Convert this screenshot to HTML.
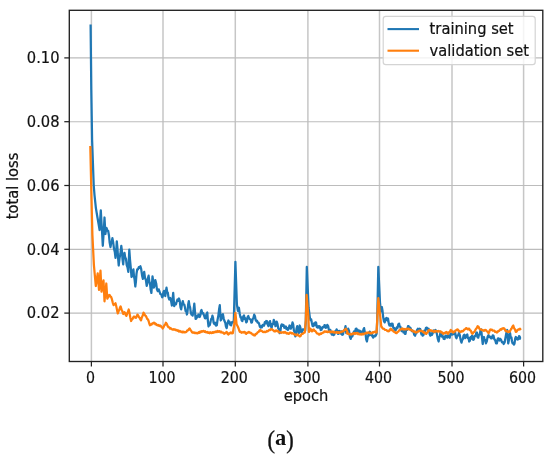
<!DOCTYPE html>
<html><head><meta charset="utf-8"><title>loss</title>
<style>
html,body{margin:0;padding:0;background:#fff;}
body{width:550px;height:458px;overflow:hidden;}
svg{display:block;}
text{font-family:"DejaVu Sans","Liberation Sans",sans-serif;fill:#111;stroke:#111;stroke-width:0.2px;}
.cap{font-family:"Liberation Serif","DejaVu Serif",serif;fill:#111;stroke:none;}
.par{stroke:#111;stroke-width:0.3px;}
</style></head><body>
<svg width="550" height="458" viewBox="0 0 550 458">
<rect x="0" y="0" width="550" height="458" fill="#ffffff"/>

<g stroke="#c6c6c6" stroke-width="1.5">
<line x1="91.4" y1="10.3" x2="91.4" y2="361.5"/>
<line x1="163.0" y1="10.3" x2="163.0" y2="361.5"/>
<line x1="235.3" y1="10.3" x2="235.3" y2="361.5"/>
<line x1="307.9" y1="10.3" x2="307.9" y2="361.5"/>
<line x1="379.5" y1="10.3" x2="379.5" y2="361.5"/>
<line x1="452.0" y1="10.3" x2="452.0" y2="361.5"/>
<line x1="523.6" y1="10.3" x2="523.6" y2="361.5"/>
</g>
<g stroke="#bcbcbc" stroke-width="1.15">
<line x1="69.3" y1="313.1" x2="542.8" y2="313.1"/>
<line x1="69.3" y1="249.3" x2="542.8" y2="249.3"/>
<line x1="69.3" y1="185.5" x2="542.8" y2="185.5"/>
<line x1="69.3" y1="121.7" x2="542.8" y2="121.7"/>
<line x1="69.3" y1="57.9" x2="542.8" y2="57.9"/>
</g>
<clipPath id="c"><rect x="69.3" y="10.3" width="473.5" height="351.2"/></clipPath>
<g clip-path="url(#c)">
<polyline points="90.6,24.6 91.3,90.0 92.1,140.0 93.7,185.0 94.5,195.0 95.9,208.1 97.2,216.0 98.6,224.0 99.6,230.0 100.2,219.3 100.8,210.4 101.5,223.0 102.1,232.7 102.8,245.8 103.7,232.3 104.5,217.5 105.4,234.0 106.0,229.8 106.6,228.0 107.4,230.5 108.2,231.0 109.0,235.7 109.7,242.9 110.5,247.1 111.1,243.5 111.7,242.2 112.4,238.2 113.2,242.4 114.0,248.8 114.8,251.9 115.5,257.9 116.2,251.1 116.8,241.4 117.5,248.7 118.1,258.3 118.7,265.5 119.6,257.7 120.4,254.0 121.3,245.8 121.9,250.8 122.5,259.1 123.2,264.3 123.8,256.9 124.5,252.8 125.2,257.3 126.0,259.0 126.7,265.2 127.5,267.3 128.3,271.9 129.3,249.6 130.0,259.5 130.7,266.9 131.5,277.0 132.1,275.9 132.7,271.1 133.4,269.4 134.0,276.3 134.6,279.6 135.3,286.5 135.9,281.8 136.5,273.9 137.2,269.4 138.0,269.3 138.8,267.1 139.6,267.8 140.4,266.2 141.2,269.1 142.1,275.7 142.9,278.9 143.5,274.5 144.2,271.9 145.0,277.8 145.9,280.2 146.7,285.9 147.4,283.4 148.0,277.7 148.6,275.7 149.3,281.3 150.0,283.4 150.7,289.8 151.4,292.9 152.5,276.3 153.2,280.8 153.8,287.7 154.6,285.4 155.3,280.1 156.2,283.5 157.0,289.6 157.8,291.2 158.7,289.3 159.5,291.5 160.4,294.2 161.2,294.3 162.1,297.3 162.7,296.5 163.4,292.3 164.0,290.9 164.6,294.6 165.3,296.0 165.9,291.2 166.5,287.7 167.2,292.2 167.8,292.7 168.5,297.3 169.3,299.5 170.2,297.9 171.0,300.5 171.9,305.5 172.5,300.1 173.2,292.8 174.2,306.2 175.0,303.4 175.9,304.4 176.7,301.7 177.5,299.5 178.3,300.7 179.0,298.5 179.7,300.7 180.5,307.3 181.2,309.4 182.0,304.1 182.8,301.1 183.6,304.5 184.3,304.6 185.0,307.5 185.6,311.1 186.3,310.8 186.9,314.5 187.5,311.6 188.2,304.1 188.8,301.1 189.5,305.6 190.1,307.3 190.7,311.9 191.4,314.5 192.0,313.8 192.6,315.7 193.5,310.8 194.3,303.6 194.9,310.5 195.6,318.9 196.3,318.5 197.0,316.0 197.7,317.0 198.4,314.5 199.0,315.0 199.6,317.0 200.3,315.5 200.9,311.3 201.5,310.0 202.4,313.4 203.2,313.1 204.1,315.7 204.9,318.1 205.6,318.3 206.4,314.2 207.3,312.5 207.9,321.1 208.5,326.5 209.2,323.6 209.8,325.1 210.5,322.1 211.1,319.1 211.7,318.9 212.4,315.7 213.0,317.5 213.6,322.8 214.3,324.0 215.1,322.8 216.0,325.6 216.8,325.3 217.6,319.4 218.3,316.1 219.1,309.3 219.8,305.2 220.7,320.5 221.4,319.4 222.2,315.0 222.9,314.1 223.7,318.5 224.5,321.1 225.3,322.8 226.0,326.8 226.7,328.1 227.5,323.3 228.4,320.5 229.0,323.1 229.6,321.8 230.3,324.9 231.1,325.4 232.0,322.1 232.8,322.4 233.8,320.5 235.4,261.9 236.9,304.5 237.9,310.9 238.9,307.7 239.7,313.7 240.5,317.3 241.1,317.2 241.7,320.5 242.4,321.1 243.2,316.7 244.0,315.4 244.7,319.1 245.5,318.5 246.2,322.4 246.9,321.7 247.6,317.1 248.3,316.0 249.2,318.6 250.0,319.2 250.6,319.5 251.3,322.6 251.9,322.4 252.7,319.1 253.4,318.0 254.2,314.7 254.9,316.0 255.6,319.8 256.4,321.1 257.0,320.6 257.6,322.6 258.3,322.4 259.0,323.4 259.8,326.5 260.6,327.5 261.3,326.1 262.0,327.2 262.7,324.9 263.4,324.9 264.1,325.6 264.8,322.1 265.5,323.4 266.2,321.0 266.9,321.1 267.7,324.6 268.5,326.2 269.2,322.6 270.0,321.1 270.8,325.3 271.6,328.1 272.4,323.9 273.1,324.2 273.8,319.8 274.6,321.9 275.5,326.2 276.1,325.1 276.7,321.7 277.5,323.9 278.2,328.2 278.9,329.4 279.7,333.2 280.4,331.1 281.1,325.8 281.8,324.3 282.6,325.7 283.5,324.9 284.3,327.8 285.1,326.8 285.8,326.5 286.5,329.2 287.2,328.0 287.9,330.0 288.7,328.4 289.5,325.5 290.2,326.0 290.8,328.7 291.6,327.1 292.5,322.4 293.2,324.4 293.9,330.7 294.6,332.0 295.3,336.4 295.9,334.0 296.5,328.8 297.2,326.2 298.0,331.1 298.8,333.2 299.7,325.5 300.4,327.6 301.0,331.9 301.8,332.5 302.7,329.3 303.5,329.4 305.2,330.6 305.8,320.5 306.8,266.9 308.6,307.7 309.9,317.9 310.5,320.2 311.2,319.4 311.8,322.4 312.6,325.9 313.3,326.2 314.0,323.4 314.7,325.1 315.4,322.4 316.1,322.6 316.8,327.1 317.5,327.5 318.2,326.2 318.8,327.7 319.5,326.2 320.1,327.1 320.7,330.0 321.6,329.6 322.4,327.2 323.3,326.8 323.9,327.3 324.5,325.1 325.2,325.5 325.8,327.8 326.5,327.5 327.3,324.9 328.2,326.2 329.0,330.6 329.6,332.1 330.3,329.9 330.9,331.9 331.8,334.6 332.6,332.5 333.5,335.1 334.3,334.6 335.0,331.4 335.8,331.6 336.6,329.4 337.3,330.8 337.9,333.8 338.5,333.8 339.2,330.9 339.8,331.3 340.6,333.6 341.4,331.4 342.2,334.8 343.0,334.5 343.8,330.4 344.7,330.4 345.5,326.2 346.3,333.2 346.9,331.0 347.5,331.5 348.2,328.7 349.0,330.6 349.9,336.9 350.7,338.9 351.6,335.6 352.4,336.2 353.3,333.2 354.1,331.3 354.9,332.4 355.7,328.9 356.5,328.7 357.1,331.4 357.7,329.7 358.4,332.5 359.0,333.1 359.6,330.7 360.3,331.3 360.9,333.7 361.5,331.6 362.2,333.8 362.8,332.7 363.5,329.2 364.1,328.1 364.8,332.2 365.5,333.2 366.2,339.5 366.9,341.5 367.7,337.2 368.5,334.5 369.2,335.3 369.8,331.6 370.5,332.5 371.1,335.1 371.7,334.1 372.4,336.4 373.2,337.5 374.1,335.6 374.9,336.4 375.7,335.7 376.6,333.8 377.2,320.5 378.3,266.9 380.0,302.6 380.9,311.5 381.9,307.1 382.5,310.6 383.2,317.3 383.9,321.1 384.7,322.4 385.5,319.0 386.4,317.9 387.3,320.5 388.0,318.5 388.8,323.6 389.5,325.5 390.3,323.9 391.1,325.8 391.8,323.6 392.6,323.9 393.3,327.9 394.0,328.7 394.6,328.3 395.3,330.5 395.9,330.0 396.7,327.5 397.5,328.0 398.3,324.3 399.1,323.6 399.7,326.6 400.4,326.7 401.0,329.4 401.6,331.1 402.3,328.8 402.9,330.0 403.5,332.4 404.2,331.3 404.8,333.8 405.5,333.9 406.1,329.8 406.7,329.4 407.4,329.8 408.0,326.1 408.6,326.2 409.5,328.6 410.3,327.6 411.2,330.0 411.9,331.0 412.5,330.6 413.4,331.3 414.2,334.8 415.1,335.7 415.7,333.2 416.4,333.3 417.0,330.0 417.8,328.8 418.7,330.3 419.5,328.7 420.2,329.0 420.8,331.9 421.5,334.4 422.1,333.5 422.7,335.7 423.5,335.0 424.3,330.7 425.1,331.4 425.9,328.1 426.8,327.6 427.6,329.7 428.5,328.7 429.1,330.2 429.7,334.3 430.4,335.7 431.2,333.3 432.1,334.7 432.9,332.5 433.8,330.5 434.6,332.2 435.5,330.0 436.2,330.7 437.0,334.5 437.8,339.0 438.6,341.5 439.3,337.0 439.9,336.2 440.5,331.9 441.3,332.5 442.1,336.7 442.9,336.1 443.7,338.9 444.6,339.0 445.4,335.7 446.3,335.7 447.1,337.7 448.0,335.3 448.8,337.0 449.7,337.7 450.5,333.7 451.4,334.5 452.2,334.7 453.0,332.0 453.8,334.1 454.5,331.9 455.2,332.6 455.8,336.9 456.5,338.3 457.3,335.6 458.2,335.5 459.0,332.5 459.8,335.2 460.7,340.2 461.5,342.7 462.2,339.7 462.8,339.4 463.5,335.7 464.3,334.7 465.2,338.1 466.0,337.0 466.6,334.9 467.3,334.5 467.9,338.1 468.5,337.8 469.2,341.5 469.9,340.8 470.5,337.1 471.2,338.8 471.9,335.7 472.5,336.2 473.2,339.9 473.8,339.5 474.7,336.2 475.5,336.0 476.4,332.5 477.0,332.6 477.6,337.4 478.3,337.6 479.0,334.8 479.7,334.6 480.5,330.3 481.2,329.4 482.0,337.6 482.7,344.0 483.4,339.7 484.0,337.0 484.6,340.1 485.3,339.9 485.9,343.4 486.8,341.3 487.6,336.7 488.5,335.1 489.3,337.2 490.2,336.6 491.0,338.3 491.8,338.4 492.7,335.3 493.5,335.7 494.4,339.4 495.2,340.1 496.1,343.4 496.9,343.3 497.8,338.6 498.6,338.3 499.5,340.5 500.3,338.8 501.2,340.2 502.0,342.3 502.9,342.1 503.7,344.0 504.6,342.5 505.4,338.3 506.3,333.2 507.2,330.0 508.2,343.4 508.8,340.7 509.5,335.5 510.1,333.2 510.7,337.5 511.4,337.3 512.0,341.5 512.6,343.4 513.3,342.8 513.9,344.6 514.5,343.6 515.2,338.4 515.8,337.0 516.5,339.2 517.1,338.0 517.7,339.5 518.4,339.2 519.0,336.1 519.6,336.4 520.3,338.7 520.9,338.9" fill="none" stroke="#1f77b4" stroke-width="2.25" stroke-linejoin="round" stroke-linecap="butt"/>
<polyline points="90.3,146.0 91.3,190.0 92.4,235.0 93.9,265.0 95.8,286.0 97.7,273.3 99.0,289.8 100.5,270.7 101.5,291.7 103.5,280.3 104.5,301.3 106.3,283.5 107.3,298.7 109.2,294.9 109.8,295.3 110.5,296.7 111.1,296.8 111.9,299.2 112.8,302.8 113.6,305.1 114.3,304.2 114.9,304.3 115.5,303.2 116.3,306.4 117.1,310.4 117.8,313.4 118.5,311.3 119.2,310.2 119.9,307.7 120.6,306.4 121.5,309.4 122.3,311.2 123.2,314.0 123.8,313.3 124.5,312.1 125.1,313.0 125.7,314.9 126.4,315.9 127.1,313.6 127.9,311.9 128.7,309.5 129.5,313.1 130.3,317.4 131.1,321.0 131.8,319.6 132.5,319.1 133.3,317.2 134.0,316.5 134.6,317.3 135.3,317.0 135.9,317.8 136.7,316.5 137.4,314.6 138.2,315.5 138.9,317.1 139.6,317.8 140.3,319.4 141.0,320.4 141.8,317.4 142.7,315.6 143.5,312.7 144.3,313.7 145.1,315.6 145.9,316.0 146.7,317.8 147.4,319.1 148.0,319.5 148.6,321.0 149.3,323.5 150.0,325.3 150.8,324.4 151.5,324.7 152.3,323.4 153.1,323.6 153.8,322.7 154.6,322.8 155.3,324.3 156.1,323.9 156.9,325.2 157.6,325.3 158.4,325.0 159.2,326.0 160.0,325.4 160.8,325.9 161.5,327.1 162.1,327.4 162.7,328.5 163.5,327.3 164.3,325.4 165.1,324.6 165.9,322.7 166.8,323.9 167.6,326.0 168.5,327.2 169.3,327.4 170.0,328.6 170.8,328.1 171.6,329.1 172.4,329.6 173.2,329.1 173.9,329.8 174.7,329.3 175.5,329.7 176.2,330.3 176.9,330.0 177.6,330.9 178.4,330.5 179.1,331.6 179.8,330.9 180.5,331.6 181.3,332.1 182.0,331.5 182.7,332.4 183.5,331.7 184.2,332.4 184.9,332.0 185.6,332.3 186.5,331.8 187.3,330.4 188.1,330.3 188.9,329.0 189.7,328.5 190.5,330.1 191.2,330.8 192.0,332.3 192.7,332.7 193.5,332.3 194.2,333.0 194.9,332.6 195.6,333.2 196.4,332.8 197.1,333.3 197.8,333.3 198.5,332.3 199.2,332.8 200.0,331.7 200.7,332.3 201.4,331.1 202.1,331.8 202.8,331.0 203.6,330.9 204.3,331.8 205.1,331.2 205.9,332.3 206.6,332.3 207.4,331.9 208.1,332.9 208.9,332.4 209.6,333.2 210.3,332.3 211.1,332.9 211.8,333.1 212.5,332.1 213.3,332.8 214.0,331.9 214.7,332.4 215.5,331.5 216.2,331.6 216.8,332.0 217.5,331.0 218.2,331.8 218.8,331.3 219.6,331.1 220.3,332.3 221.1,331.6 221.9,332.7 222.6,332.5 223.3,332.7 223.9,333.6 224.5,333.8 225.2,332.9 225.8,332.9 226.5,331.9 227.1,332.5 227.7,334.1 228.4,334.5 229.0,333.4 229.6,333.6 230.3,332.5 231.1,332.4 232.0,333.4 232.8,333.2 234.1,325.5 235.4,312.8 236.6,324.3 237.9,326.8 238.5,328.2 239.2,330.4 239.8,331.9 240.7,331.7 241.5,332.8 242.4,332.5 243.0,332.0 243.6,332.5 244.3,331.9 244.9,332.1 245.5,333.4 246.2,333.8 247.0,332.7 247.9,332.8 248.7,331.9 249.5,332.2 250.3,333.1 251.1,332.9 251.9,333.8 252.7,334.6 253.4,334.5 254.2,335.5 254.9,335.4 255.6,334.0 256.3,334.1 257.0,333.2 257.8,332.0 258.6,332.0 259.4,330.4 260.2,330.0 261.0,331.0 261.9,330.9 262.7,331.9 263.5,332.1 264.3,331.7 265.1,332.2 265.9,331.9 266.8,331.0 267.6,331.4 268.5,330.6 269.3,329.9 270.0,330.1 270.8,329.3 271.6,329.1 272.5,330.1 273.3,330.1 274.2,331.3 275.0,331.5 275.9,330.4 276.7,330.6 277.5,331.4 278.3,331.2 279.1,332.4 279.9,332.5 280.8,332.2 281.6,332.8 282.5,332.5 283.3,332.1 284.1,332.8 284.9,332.0 285.7,332.5 286.6,333.5 287.4,333.2 288.3,333.8 289.1,333.7 290.0,332.5 290.8,332.5 291.7,333.5 292.5,333.1 293.4,333.8 294.2,334.5 295.1,334.4 295.9,335.1 296.5,335.4 297.2,334.4 297.8,334.5 298.5,335.5 299.1,335.5 299.7,336.4 300.6,335.9 301.4,334.2 302.3,333.8 303.1,333.6 304.0,332.5 304.8,332.5 305.8,320.5 306.6,294.8 308.3,315.4 309.0,331.9 309.7,330.7 310.3,328.7 311.1,329.5 311.8,331.3 312.5,331.1 313.1,329.7 313.7,329.4 314.6,330.9 315.4,331.1 316.3,332.5 317.1,333.4 318.0,333.6 318.8,334.5 319.6,334.5 320.4,333.5 321.2,333.8 322.0,333.2 322.8,332.5 323.6,332.5 324.4,331.4 325.2,331.3 326.0,331.9 326.8,331.4 327.6,332.2 328.4,331.9 329.1,331.4 329.9,332.1 330.7,331.4 331.4,332.3 332.2,331.9 332.9,331.5 333.7,332.5 334.5,332.0 335.2,332.7 336.0,332.5 336.8,332.0 337.5,332.9 338.3,332.2 339.1,332.9 339.8,332.5 340.6,331.9 341.4,332.1 342.2,331.4 343.0,331.3 343.7,331.1 344.4,329.7 345.1,329.9 345.8,328.7 346.6,330.0 347.5,331.9 346.9,333.2 347.8,333.9 348.6,333.7 349.5,334.5 350.3,334.6 351.0,333.8 351.8,334.5 352.6,333.8 353.4,333.2 354.2,334.0 354.9,333.0 355.7,333.8 356.5,333.2 357.2,332.9 358.0,334.1 358.7,333.5 359.5,334.4 360.3,334.5 361.0,333.9 361.8,334.5 362.6,333.6 363.3,334.4 364.1,333.8 364.9,333.3 365.6,333.5 366.4,332.6 367.1,333.0 367.9,332.5 368.7,332.3 369.4,333.1 370.2,332.6 371.0,333.5 371.7,333.2 372.6,332.2 373.4,332.6 374.3,331.9 375.0,331.7 375.8,332.6 376.6,332.5 377.5,314.1 378.3,298.2 380.0,314.1 381.3,326.8 381.9,327.1 382.5,328.4 383.2,328.7 384.0,328.9 384.9,329.8 385.7,330.0 386.5,330.1 387.3,331.1 388.1,330.6 388.9,331.3 389.5,330.7 390.2,329.1 390.8,328.7 391.7,330.1 392.5,330.1 393.4,331.3 394.2,332.0 395.0,332.0 395.8,332.9 396.5,333.2 397.4,332.0 398.2,331.7 399.1,330.6 399.9,329.7 400.8,329.6 401.6,328.7 402.4,328.5 403.2,329.5 404.0,328.8 404.8,329.4 405.6,329.5 406.4,328.7 407.2,329.3 408.0,328.7 408.8,328.7 409.6,329.7 410.4,329.5 411.2,330.0 411.8,330.7 412.5,330.3 413.2,331.3 414.0,331.8 414.8,331.5 415.6,332.6 416.4,332.5 417.2,331.6 418.0,331.9 418.8,330.8 419.5,330.6 420.4,331.1 421.2,330.7 422.1,331.3 422.8,332.0 423.5,331.6 424.2,333.0 424.9,332.5 425.6,333.6 426.3,333.8 427.0,332.7 427.7,332.3 428.4,330.5 429.1,330.0 429.9,330.6 430.6,330.1 431.4,331.0 432.1,330.7 432.9,331.3 433.7,331.8 434.4,330.8 435.2,331.7 436.0,330.8 436.7,331.3 437.5,331.6 438.3,331.0 439.1,331.5 439.9,331.3 440.7,331.4 441.4,332.7 442.2,332.3 443.0,333.7 443.7,333.8 444.6,332.8 445.4,333.0 446.3,331.9 446.9,332.2 447.5,333.6 448.2,333.8 449.0,332.3 449.9,331.7 450.7,330.0 451.6,330.6 452.4,332.2 453.3,332.5 454.0,331.5 454.8,331.6 455.6,330.4 456.3,330.3 457.1,329.4 457.9,329.6 458.7,331.1 459.5,331.0 460.3,331.9 461.1,331.8 461.9,330.9 462.7,331.3 463.5,330.6 464.3,329.5 465.2,329.2 466.0,328.1 466.6,328.1 467.3,329.1 467.9,329.4 468.5,328.7 469.2,328.7 470.0,330.3 470.9,330.8 471.7,333.0 472.5,333.8 473.4,332.3 474.2,332.0 475.1,330.6 475.9,328.9 476.8,327.9 477.6,326.2 478.5,326.7 479.3,328.7 480.2,329.4 481.0,329.4 481.8,330.2 482.6,330.0 483.4,330.6 484.2,330.8 485.1,329.9 485.9,330.0 486.8,331.3 487.6,331.7 488.5,333.2 489.1,332.4 489.7,330.4 490.4,329.4 491.2,329.9 492.0,329.7 492.8,330.7 493.5,330.6 494.3,330.7 495.1,331.9 495.9,331.6 496.7,332.5 497.5,332.3 498.3,330.9 499.1,330.9 499.9,330.0 500.7,329.1 501.4,329.5 502.2,328.4 503.0,328.7 503.7,328.1 504.6,328.9 505.4,330.7 506.3,331.3 507.1,331.1 507.9,332.1 508.7,331.4 509.5,331.9 510.2,330.9 511.0,329.1 511.7,328.4 512.5,326.4 513.3,325.5 514.1,328.2 515.0,329.5 515.8,331.9 516.7,331.4 517.5,329.9 518.4,329.4 519.1,329.6 519.9,328.7 520.9,330.0" fill="none" stroke="#ff7f0e" stroke-width="2.25" stroke-linejoin="round" stroke-linecap="butt"/>
</g>
<rect x="69.3" y="10.3" width="473.5" height="351.2" fill="none" stroke="#222" stroke-width="1.35"/>
<g stroke="#222" stroke-width="1.25">
<line x1="91.4" y1="361.5" x2="91.4" y2="366.5"/>
<line x1="163.0" y1="361.5" x2="163.0" y2="366.5"/>
<line x1="235.3" y1="361.5" x2="235.3" y2="366.5"/>
<line x1="307.9" y1="361.5" x2="307.9" y2="366.5"/>
<line x1="379.5" y1="361.5" x2="379.5" y2="366.5"/>
<line x1="452.0" y1="361.5" x2="452.0" y2="366.5"/>
<line x1="523.6" y1="361.5" x2="523.6" y2="366.5"/>
<line x1="64.3" y1="313.1" x2="69.3" y2="313.1"/>
<line x1="64.3" y1="249.3" x2="69.3" y2="249.3"/>
<line x1="64.3" y1="185.5" x2="69.3" y2="185.5"/>
<line x1="64.3" y1="121.7" x2="69.3" y2="121.7"/>
<line x1="64.3" y1="57.9" x2="69.3" y2="57.9"/>
</g>
<text transform="translate(90.40,382.50) scale(0.965,1.090)" font-size="14.7" text-anchor="middle">0</text>
<text transform="translate(162.00,382.50) scale(0.965,1.090)" font-size="14.7" text-anchor="middle">100</text>
<text transform="translate(234.30,382.50) scale(0.965,1.090)" font-size="14.7" text-anchor="middle">200</text>
<text transform="translate(306.90,382.50) scale(0.965,1.090)" font-size="14.7" text-anchor="middle">300</text>
<text transform="translate(378.50,382.50) scale(0.965,1.090)" font-size="14.7" text-anchor="middle">400</text>
<text transform="translate(451.00,382.50) scale(0.965,1.090)" font-size="14.7" text-anchor="middle">500</text>
<text transform="translate(522.60,382.50) scale(0.965,1.090)" font-size="14.7" text-anchor="middle">600</text>
<text transform="translate(59.50,318.30) scale(1.000,1.090)" font-size="14.7" text-anchor="end">0.02</text>
<text transform="translate(59.50,254.50) scale(1.000,1.090)" font-size="14.7" text-anchor="end">0.04</text>
<text transform="translate(59.50,190.70) scale(1.000,1.090)" font-size="14.7" text-anchor="end">0.06</text>
<text transform="translate(59.50,126.90) scale(1.000,1.090)" font-size="14.7" text-anchor="end">0.08</text>
<text transform="translate(59.50,63.10) scale(1.000,1.090)" font-size="14.7" text-anchor="end">0.10</text>
<text transform="translate(306.05,401.00) scale(1.000,1.090)" font-size="14.7" text-anchor="middle">epoch</text>
<text transform="translate(18.30,185.90) rotate(-90) scale(1.000,1.090)" font-size="14.7" text-anchor="middle">total loss</text>
<rect x="383.2" y="16.4" width="152" height="48.2" rx="2.6" ry="2.6" fill="#ffffff" fill-opacity="0.8" stroke="#d4d4d4" stroke-width="1.2"/>
<line x1="387.5" y1="29.1" x2="419" y2="29.1" stroke="#1f77b4" stroke-width="2.1"/>
<line x1="387.5" y1="50.7" x2="419" y2="50.7" stroke="#ff7f0e" stroke-width="2.1"/>
<text transform="translate(429.60,34.20) scale(1.000,1.090)" font-size="14.7" text-anchor="start">training set</text>
<text transform="translate(429.60,55.80) scale(1.000,1.090)" font-size="14.7" text-anchor="start">validation set</text>
<text class="cap par" transform="translate(267.6,447.8) scale(1,1.107)" font-size="22.5">(</text>
<text class="cap" x="275.1" y="445.3" font-size="22.5" font-weight="bold">a</text>
<text class="cap par" transform="translate(286.3,447.8) scale(1,1.107)" font-size="22.5">)</text>
</svg></body></html>
